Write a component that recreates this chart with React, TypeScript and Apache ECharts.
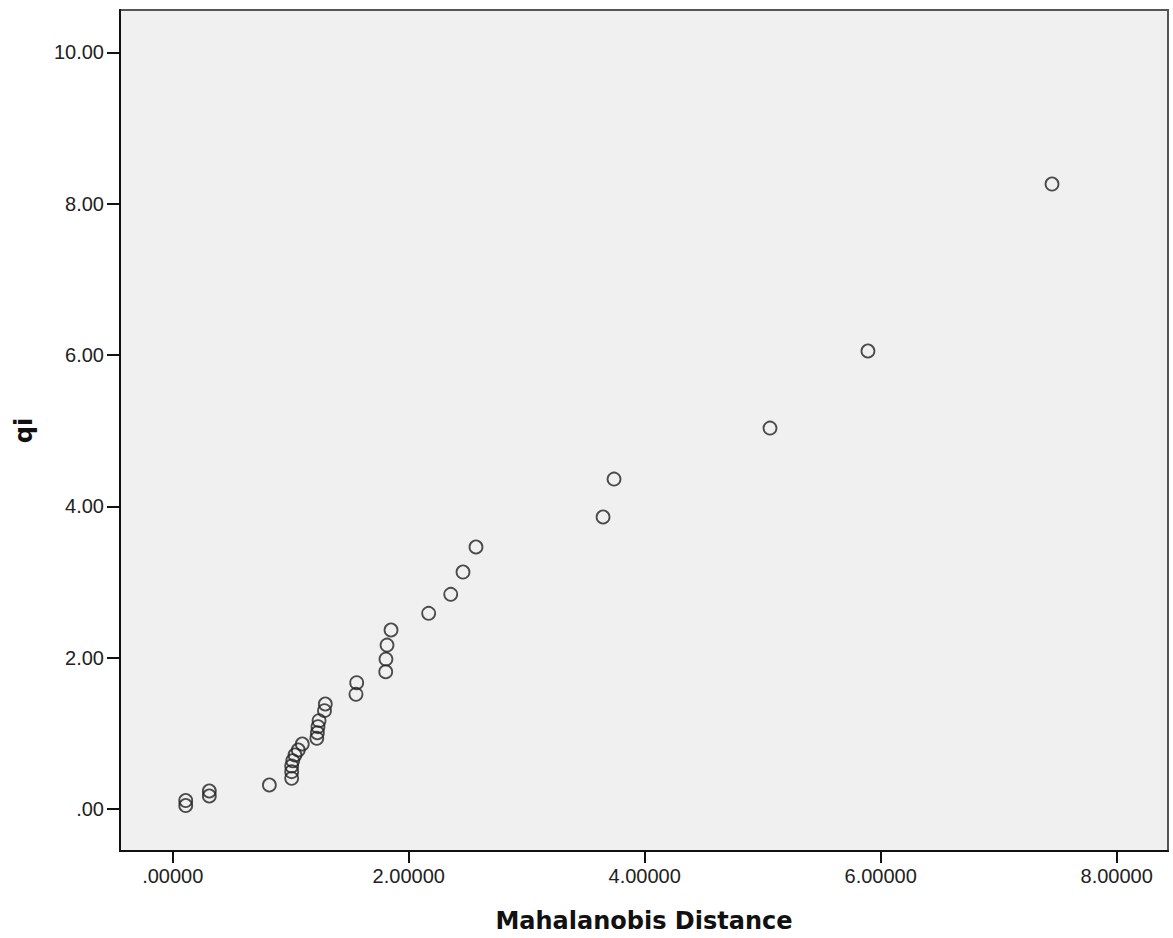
import React, { useEffect, useRef } from "react";
import * as echarts from "echarts";

const mahalanobis: number[] = [
  7.452, 5.892, 5.062, 3.74, 3.647, 2.57, 2.46, 2.356, 2.169, 1.85, 1.816, 1.807,
  1.805, 1.559, 1.553, 1.293, 1.286, 1.24, 1.231, 1.226, 1.221, 1.098, 1.064,
  1.036, 1.017, 1.008, 1.008, 1.008, 0.819, 0.31, 0.31, 0.11, 0.11,
];
const qi: number[] = [
  8.26, 6.053, 5.035, 4.361, 3.859, 3.463, 3.132, 2.837, 2.586, 2.366, 2.167, 1.982,
  1.814, 1.669, 1.516, 1.388, 1.3, 1.168, 1.088, 1.008, 0.934, 0.859, 0.78,
  0.714, 0.638, 0.568, 0.493, 0.405, 0.317, 0.238, 0.172, 0.112, 0.046,
];
const xTicks: number[] = [0, 2, 4, 6, 8];
const yTicks: number[] = [0, 2, 4, 6, 8, 10];
const xName = "Mahalanobis Distance";
const yName = "qi";

const fmt = (v: number, d: number) => {
  const s = v.toFixed(d);
  return s.startsWith("0.") ? s.slice(1) : s;
};

export default function App() {
  const ref = useRef<HTMLDivElement>(null);
  useEffect(() => {
    document.body.style.margin = "0";
    const chart = echarts.init(ref.current!, undefined, { renderer: "svg" });
    const tickFont = { fontFamily: "Liberation Sans, Arial, sans-serif", fontSize: 20, color: "#222" };
    chart.setOption({
      animation: false,
      backgroundColor: "#ffffff",
      grid: {
        left: 120,
        top: 10,
        right: 1173 - 1168,
        bottom: 938 - 851,
        show: true,
        backgroundColor: "#f0f0f0",
        borderColor: "#555",
        borderWidth: 2,
      },
      xAxis: {
        type: "value",
        min: -0.447,
        max: 8.435,
        name: xName,
        nameLocation: "middle",
        nameGap: 58,
        nameTextStyle: { fontFamily: "DejaVu Sans, sans-serif", fontWeight: "bold", fontSize: 24, color: "#111" },
        axisLine: { show: true, onZero: false, lineStyle: { color: "#111", width: 2 } },
        axisTick: { show: true, length: 12, lineStyle: { color: "#111", width: 2 }, customValues: xTicks },
        axisLabel: { ...tickFont, margin: 15, customValues: xTicks, formatter: (v: number) => fmt(v, 5) },
        splitLine: { show: false },
      },
      yAxis: {
        type: "value",
        min: -0.555,
        max: 10.56,
        name: yName,
        nameLocation: "middle",
        nameGap: 84,
        nameRotate: 90,
        nameTextStyle: { fontFamily: "DejaVu Sans, sans-serif", fontWeight: "bold", fontSize: 24, color: "#111" },
        axisLine: { show: true, onZero: false, lineStyle: { color: "#111", width: 2 } },
        axisTick: { show: true, length: 13, lineStyle: { color: "#111", width: 2 }, customValues: yTicks },
        axisLabel: { ...tickFont, margin: 16, customValues: yTicks, formatter: (v: number) => fmt(v, 2) },
        splitLine: { show: false },
      },
      series: [
        {
          type: "scatter",
          symbol: "circle",
          symbolSize: 13,
          data: mahalanobis.map((x, i) => [x, qi[i]]),
          itemStyle: { color: "rgba(0,0,0,0)", borderColor: "#222", borderWidth: 1.8 },
        },
      ],
    });
    return () => chart.dispose();
  }, []);
  return <div ref={ref} style={{ width: 1173, height: 938 }} />;
}
